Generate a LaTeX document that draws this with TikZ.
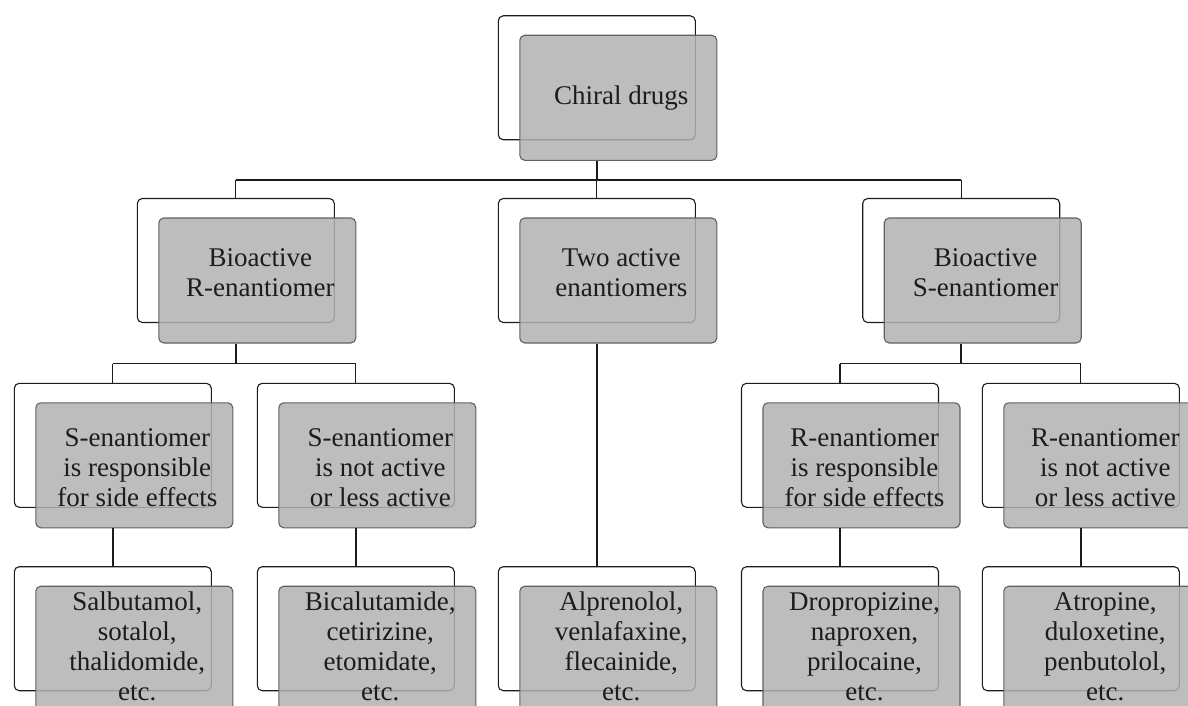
\documentclass[tikz,border=0pt]{standalone}
\usepackage{fontspec}
\setmainfont{Liberation Serif}
\usetikzlibrary{calc}
\definecolor{cardgray}{RGB}{178,178,178}
\definecolor{ink}{RGB}{28,28,28}
\newcommand\chiralbox[5]{%
  \node[frame] (#1W) at (#2,#3) {};
  \node[card] (#1) at ({#2+21.5},{#3+20}) {};
  \node[lbl] (#1T) at ($(#1)+(3,#4)$) {#5};
}
\begin{document}
\begin{tikzpicture}[x=1pt,y=-1pt,
  frame/.style={draw=ink, line width=1.1pt, fill=white, rounded corners=5pt,
    minimum width=197pt, minimum height=124pt, inner sep=0pt},
  card/.style={draw=black!62, line width=1.1pt, fill=cardgray, fill opacity=0.85,
    rounded corners=5pt, minimum width=197pt, minimum height=125pt, inner sep=0pt},
  lbl/.style={align=center, inner sep=0pt, text=ink,
    font=\fontsize{27}{30}\selectfont},
  drop/.style={line width=1.8pt, draw=ink},
  bus/.style={line width=1.1pt, draw=ink}]
\useasboundingbox (0,0) rectangle (1188,706);
\clip (0,0) rectangle (1188,706);
\fill[white] (0,0) rectangle (1188,706);

% level 1
\chiralbox{top}{596.8}{77.8}{0}{Chiral drugs}
% level 2
\chiralbox{r}{235.8}{260.5}{-8}{Bioactive\\R-enantiomer}
\chiralbox{m}{596.8}{260.5}{-8}{Two active\\enantiomers}
\chiralbox{s}{961.2}{260.5}{-8}{Bioactive\\S-enantiomer}
% level 3
\chiralbox{rs}{112.8}{445.3}{2}{S-enantiomer\\is responsible\\for side effects}
\chiralbox{rn}{355.8}{445.3}{2}{S-enantiomer\\is not active\\or less active}
\chiralbox{ss}{840.0}{445.3}{2}{R-enantiomer\\is responsible\\for side effects}
\chiralbox{sn}{1080.8}{445.3}{2}{R-enantiomer\\is not active\\or less active}
% level 4
\chiralbox{da}{112.8}{628.7}{-2}{Salbutamol,\\sotalol,\\thalidomide,\\etc.}
\chiralbox{db}{355.8}{628.7}{-2}{Bicalutamide,\\cetirizine,\\etomidate,\\etc.}
\chiralbox{dc}{596.8}{628.7}{-2}{Alprenolol,\\venlafaxine,\\flecainide,\\etc.}
\chiralbox{dd}{840.0}{628.7}{-2}{Dropropizine,\\naproxen,\\prilocaine,\\etc.}
\chiralbox{de}{1080.8}{628.7}{-2}{Atropine,\\duloxetine,\\penbutolol,\\etc.}

\coordinate (busA) at (0,180);
\coordinate (busB) at (0,363.5);

% connectors level 1 -> 2
\draw[drop] (topW |- top.south) -- (topW |- busA);
\draw[bus] (rW |- busA) -- (sW |- busA);
\draw[bus] (rW |- busA) -- (rW.north);
\draw[bus] (mW |- busA) -- (mW.north);
\draw[bus] (sW |- busA) -- (sW.north);

% level 2 -> 3 (left)
\draw[drop] (rW |- r.south) -- (rW |- busB);
\draw[bus] (rsW |- busB) -- (rnW |- busB);
\draw[bus] (rsW |- busB) -- (rsW.north);
\draw[bus] (rnW |- busB) -- (rnW.north);

% level 2 -> 3 (right)
\draw[drop] (sW |- s.south) -- (sW |- busB);
\draw[bus] (ssW |- busB) -- (snW |- busB);
\draw[bus] (ssW |- busB) -- (ssW.north);
\draw[bus] (snW |- busB) -- (snW.north);

% middle
\draw[drop] (mW |- m.south) -- (dcW.north);

% level 3 -> 4
\draw[drop] (rsW |- rs.south) -- (daW.north);
\draw[drop] (rnW |- rn.south) -- (dbW.north);
\draw[drop] (ssW |- ss.south) -- (ddW.north);
\draw[drop] (snW |- sn.south) -- (deW.north);
\end{tikzpicture}
\end{document}
